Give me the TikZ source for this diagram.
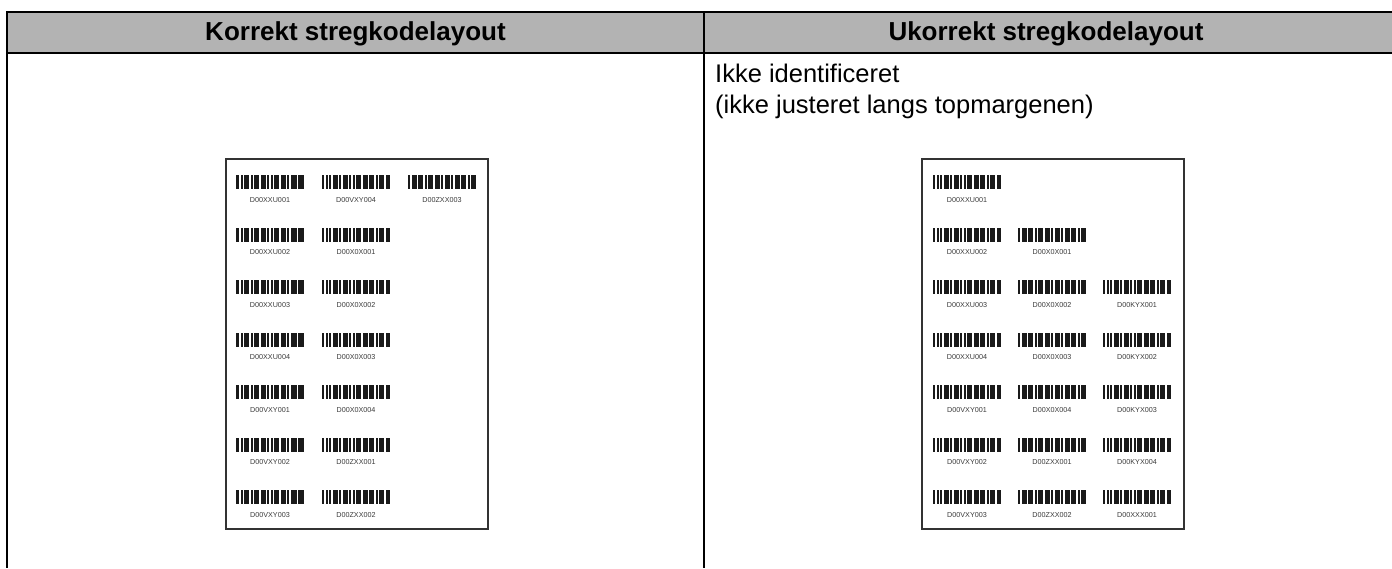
\documentclass[tikz,border=0pt]{standalone}
\usepackage{fontspec}
\setmainfont{Liberation Sans}
\usetikzlibrary{positioning,calc}
\definecolor{HeaderGray}{RGB}{179,179,179}
\definecolor{PageEdge}{RGB}{51,51,51}
\definecolor{BarBlack}{RGB}{26,26,26}
\definecolor{LabelGray}{RGB}{60,60,60}
\tikzset{
  tabel/.style={draw=black,line width=2pt},
  hoved/.style={font=\fontsize{26}{30}\selectfont\bfseries,anchor=base,inner sep=0pt},
  notetekst/.style={font=\fontsize{25.5}{30}\selectfont,anchor=base west,inner sep=0pt},
  side/.style={draw=PageEdge,fill=white,line width=1.3pt,
               minimum width=262pt,minimum height=370pt,inner sep=0pt},
  kodetekst/.style={font=\fontsize{7.2}{8}\selectfont,text=LabelGray,inner sep=0pt},
  streg/.style={fill=BarBlack},
}
% bar patterns: offset/width
\def\moA{0/3,4.5/2,8/5,14.5/2,18/5,24.5/5,31/2,34.5/2,38/5,44.5/5,51/2,54.5/6,62/6}
\def\moB{0/2,3.5/2,7/2,10.5/5,17/2,20.5/5,27/2,30.5/2,34/5,40.5/5,47/5,53.5/2,57/5,63.5/4.5}
\def\moC{0/2,3.5/5,10/5,16.5/2,20/5,26.5/5,33/2,36.5/5,43/2,46.5/5,53/5,59.5/2,63/5}
\newcommand{\stregkode}[3]{%
  \foreach \bx/\bw in #3 {\fill[streg] ({#1+\bx},#2) rectangle ++(\bw,14);}%
}

\begin{document}
\begin{tikzpicture}[x=1pt,y=-1pt]
  \useasboundingbox (0,0) rectangle (1392,568);

  % Table
  \fill[HeaderGray] (7,12) rectangle (1392,53);
  \draw[tabel] (1392,12) -- (7,12) -- (7,568);
  \draw[tabel] (7,53) -- (1392,53);
  \draw[tabel] (704,12) -- (704,568);

  \node[hoved] (hoved-v) at (355.5,40) {Korrekt stregkodelayout};
  \node[hoved] (hoved-h) at (1046,40) {Ukorrekt stregkodelayout};

  \node[notetekst] (note1) at (715,82) {Ikke identificeret};
  \node[notetekst] (note2) at (715,113) {(ikke justeret langs topmargenen)};

  % Pages
  \node[side] (venstreside) at (357,344) {};
  \node[side] (hoejreside) at (1053,344) {};

  % Left page barcodes
  \foreach \kol/\rad/\kode in {1/1/D00XXU001, 2/1/D00VXY004, 3/1/D00ZXX003,
      1/2/D00XXU002, 2/2/D00X0X001, 1/3/D00XXU003, 2/3/D00X0X002,
      1/4/D00XXU004, 2/4/D00X0X003, 1/5/D00VXY001, 2/5/D00X0X004,
      1/6/D00VXY002, 2/6/D00ZXX001, 1/7/D00VXY003, 2/7/D00ZXX002} {
    \pgfmathsetmacro\kx{236+86*(\kol-1)}
    \pgfmathsetmacro\ky{175+52.5*(\rad-1)}
    \ifcase\kol\or\let\mo\moA\or\let\mo\moB\or\let\mo\moC\fi
    \stregkode{\kx}{\ky}{\mo}
    \node[kodetekst] (v-\rad-\kol) at (\kx+34,\ky+25) {\kode};
  }

  % Right page barcodes
  \foreach \kol/\rad/\kode in {1/1/D00XXU001,
      1/2/D00XXU002, 2/2/D00X0X001,
      1/3/D00XXU003, 2/3/D00X0X002, 3/3/D00KYX001,
      1/4/D00XXU004, 2/4/D00X0X003, 3/4/D00KYX002,
      1/5/D00VXY001, 2/5/D00X0X004, 3/5/D00KYX003,
      1/6/D00VXY002, 2/6/D00ZXX001, 3/6/D00KYX004,
      1/7/D00VXY003, 2/7/D00ZXX002, 3/7/D00XXX001} {
    \pgfmathsetmacro\kx{933+85*(\kol-1)}
    \pgfmathsetmacro\ky{175+52.5*(\rad-1)}
    \ifcase\kol\or\let\mo\moB\or\let\mo\moC\or\let\mo\moB\fi
    \stregkode{\kx}{\ky}{\mo}
    \node[kodetekst] (h-\rad-\kol) at (\kx+34,\ky+25) {\kode};
  }
\end{tikzpicture}
\end{document}
